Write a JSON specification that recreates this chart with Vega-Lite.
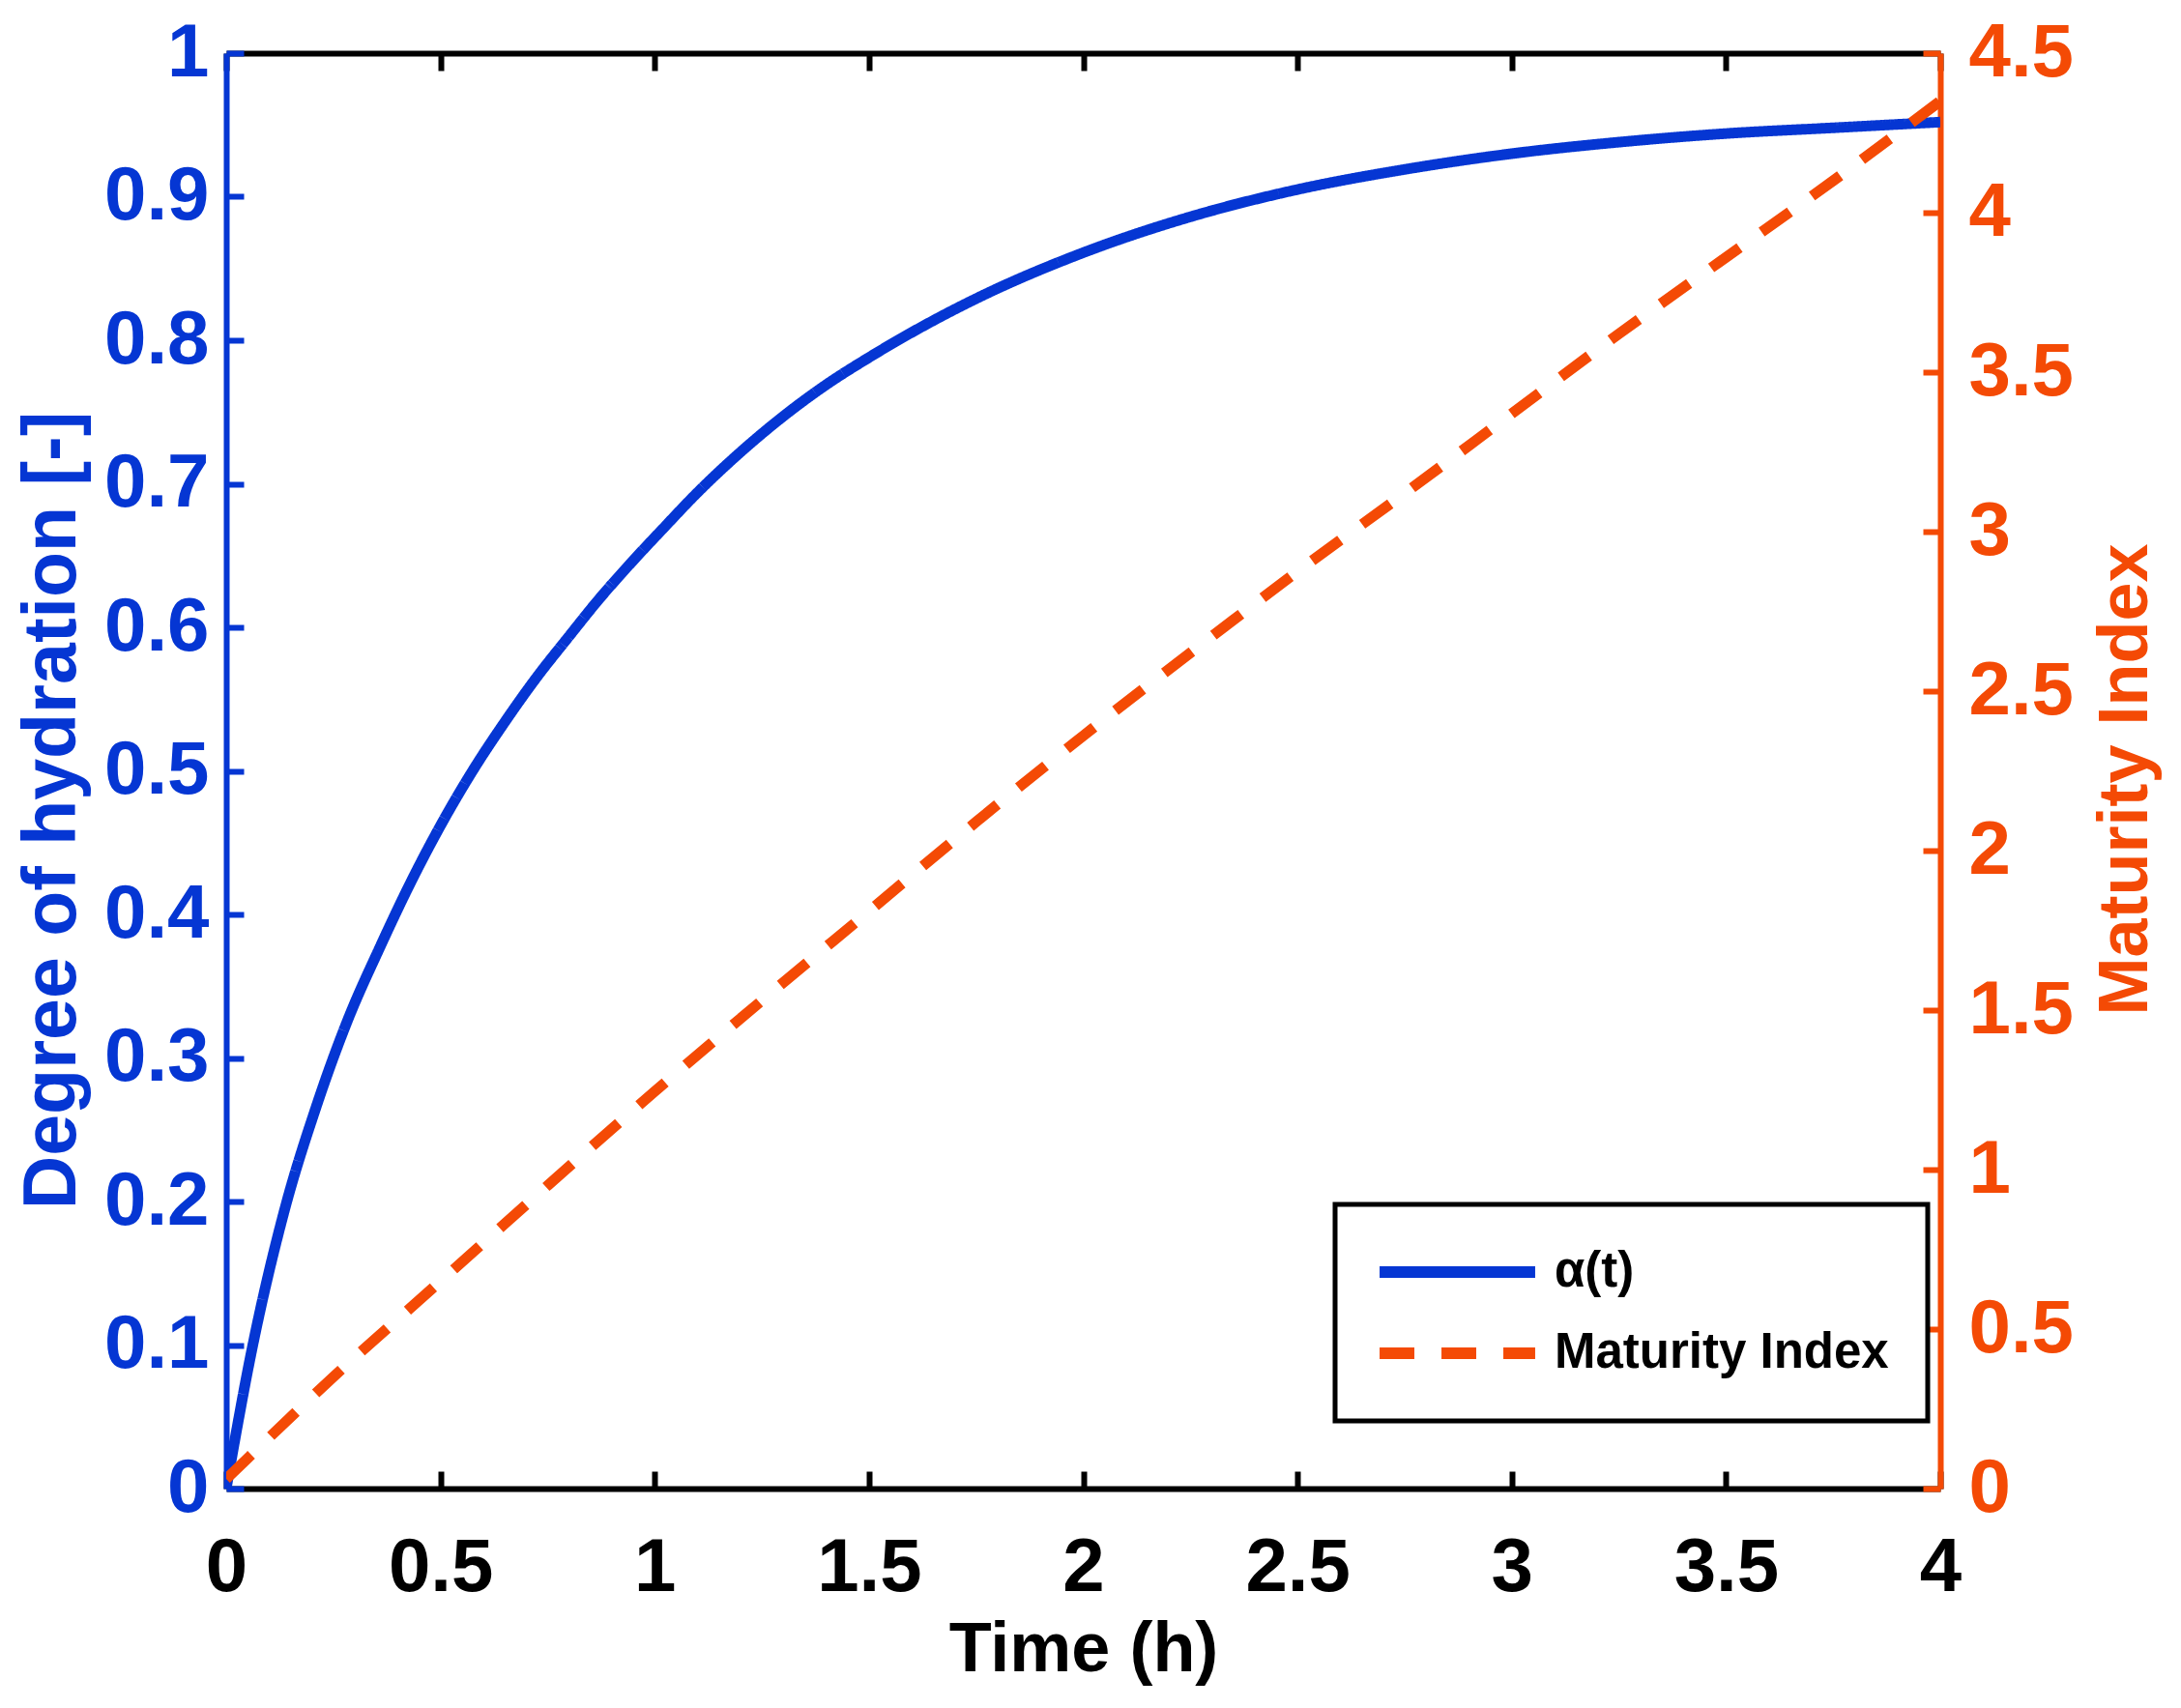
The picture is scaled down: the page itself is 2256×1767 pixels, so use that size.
{
  "$schema": "https://vega.github.io/schema/vega-lite/v6.json",
  "width": 1773,
  "height": 1485,
  "autosize": "none",
  "padding": {"left": 234, "top": 55, "right": 249, "bottom": 227},
  "background": "white",
  "config": {
    "view": {"stroke": null},
    "axis": {"grid": false, "labelFontWeight": "bold", "titleFontWeight": "bold", "labelFont": "Liberation Sans Narrow, Liberation Sans", "labelFontSize": 78, "domainWidth": 6, "tickWidth": 6, "tickSize": -18, "labelFlush": false, "labelOverlap": false},
    "legend": {"title": null, "orient": "none", "legendX": 1147, "legendY": 1191, "strokeColor": "black", "fillColor": "white", "strokeWidth": 5, "padding": 40, "symbolType": "stroke", "symbolSize": 25900, "symbolStrokeWidth": 12, "clipHeight": 60, "labelFont": "Liberation Sans Narrow, Liberation Sans", "labelFontWeight": "bold", "labelFontSize": 51, "labelColor": "black", "labelOffset": 14, "labelLimit": 0, "rowPadding": 24}
  },
  "datasets": {
    "alpha": [
      {"t": 0, "v": 0, "series": "α(t)"},
      {"t": 0.06, "v": 0.097, "series": "α(t)"},
      {"t": 0.136, "v": 0.194, "series": "α(t)"},
      {"t": 0.21, "v": 0.266, "series": "α(t)"},
      {"t": 0.283, "v": 0.326, "series": "α(t)"},
      {"t": 0.36, "v": 0.378, "series": "α(t)"},
      {"t": 0.43, "v": 0.422, "series": "α(t)"},
      {"t": 0.504, "v": 0.464, "series": "α(t)"},
      {"t": 0.577, "v": 0.501, "series": "α(t)"},
      {"t": 0.65, "v": 0.534, "series": "α(t)"},
      {"t": 0.724, "v": 0.565, "series": "α(t)"},
      {"t": 0.798, "v": 0.593, "series": "α(t)"},
      {"t": 0.871, "v": 0.62, "series": "α(t)"},
      {"t": 0.945, "v": 0.645, "series": "α(t)"},
      {"t": 1.02, "v": 0.669, "series": "α(t)"},
      {"t": 1.1, "v": 0.694, "series": "α(t)"},
      {"t": 1.2, "v": 0.722, "series": "α(t)"},
      {"t": 1.3, "v": 0.747, "series": "α(t)"},
      {"t": 1.4, "v": 0.769, "series": "α(t)"},
      {"t": 1.5, "v": 0.788, "series": "α(t)"},
      {"t": 1.75, "v": 0.829, "series": "α(t)"},
      {"t": 2.0, "v": 0.861, "series": "α(t)"},
      {"t": 2.25, "v": 0.886, "series": "α(t)"},
      {"t": 2.5, "v": 0.905, "series": "α(t)"},
      {"t": 2.75, "v": 0.919, "series": "α(t)"},
      {"t": 3.0, "v": 0.93, "series": "α(t)"},
      {"t": 3.25, "v": 0.938, "series": "α(t)"},
      {"t": 3.5, "v": 0.944, "series": "α(t)"},
      {"t": 3.75, "v": 0.948, "series": "α(t)"},
      {"t": 4.0, "v": 0.952, "series": "α(t)"}
    ],
    "maturity": [
      {"t": 0, "m": 0.03, "series": "Maturity Index"},
      {"t": 0.25, "m": 0.35, "series": "Maturity Index"},
      {"t": 0.5, "m": 0.65, "series": "Maturity Index"},
      {"t": 0.75, "m": 0.95, "series": "Maturity Index"},
      {"t": 1.0, "m": 1.245, "series": "Maturity Index"},
      {"t": 1.25, "m": 1.53, "series": "Maturity Index"},
      {"t": 1.5, "m": 1.81, "series": "Maturity Index"},
      {"t": 1.75, "m": 2.09, "series": "Maturity Index"},
      {"t": 2.0, "m": 2.36, "series": "Maturity Index"},
      {"t": 2.25, "m": 2.62, "series": "Maturity Index"},
      {"t": 2.5, "m": 2.875, "series": "Maturity Index"},
      {"t": 2.75, "m": 3.12, "series": "Maturity Index"},
      {"t": 3.0, "m": 3.37, "series": "Maturity Index"},
      {"t": 3.25, "m": 3.62, "series": "Maturity Index"},
      {"t": 3.5, "m": 3.86, "series": "Maturity Index"},
      {"t": 3.75, "m": 4.1, "series": "Maturity Index"},
      {"t": 4.0, "m": 4.35, "series": "Maturity Index"}
    ]
  },
  "layer": [
    {
      "data": {"name": "alpha"},
      "mark": {"type": "line", "strokeWidth": 11, "strokeCap": "butt", "interpolate": "monotone", "clip": true},
      "encoding": {
        "x": {"field": "t", "type": "quantitative", "scale": {"domain": [0, 4], "nice": false},
          "axis": {"orient": "bottom", "values": [0, 0.5, 1, 1.5, 2, 2.5, 3, 3.5, 4], "format": "~g", "domainColor": "black", "tickColor": "black", "labelColor": "black", "labelPadding": 61, "title": "Time (h)", "titleFont": "Liberation Sans Narrow, Liberation Sans", "titleFontSize": 72, "titleColor": "black", "titlePadding": 10}},
        "y": {"field": "v", "type": "quantitative", "scale": {"domain": [0, 1], "nice": false},
          "axis": {"orient": "left", "values": [0, 0.1, 0.2, 0.3, 0.4, 0.5, 0.6, 0.7, 0.8, 0.9, 1], "format": "~g", "domainColor": "#0536d3", "tickColor": "#0536d3", "labelColor": "#0536d3", "labelPadding": 36, "title": "Degree of hydration [-]", "titleFont": "Liberation Sans", "titleFontSize": 77, "titleColor": "#0536d3", "titleAngle": 270, "titleBaseline": "alphabetic", "titleAlign": "center", "titleX": -157, "titleY": 783}},
        "color": {"field": "series", "type": "nominal", "scale": {"domain": ["α(t)", "Maturity Index"], "range": ["#0536d3", "#f44a05"]}},
        "strokeDash": {"field": "series", "type": "nominal", "scale": {"domain": ["α(t)", "Maturity Index"], "range": [[1, 0], [36, 28]]}}
      }
    },
    {
      "data": {"name": "maturity"},
      "mark": {"type": "line", "strokeWidth": 11, "strokeCap": "butt", "interpolate": "monotone", "clip": true},
      "encoding": {
        "x": {"field": "t", "type": "quantitative", "scale": {"domain": [0, 4], "nice": false},
          "axis": {"orient": "top", "values": [0, 0.5, 1, 1.5, 2, 2.5, 3, 3.5, 4], "labels": false, "domainColor": "black", "tickColor": "black", "title": null}},
        "y": {"field": "m", "type": "quantitative", "scale": {"domain": [0, 4.5], "nice": false},
          "axis": {"orient": "right", "values": [0, 0.5, 1, 1.5, 2, 2.5, 3, 3.5, 4, 4.5], "format": "~g", "domainColor": "#f44a05", "tickColor": "#f44a05", "labelColor": "#f44a05", "labelPadding": 47, "title": "Maturity Index", "titleFont": "Liberation Sans", "titleFontSize": 72, "titleColor": "#f44a05", "titleAngle": 270, "titleBaseline": "alphabetic", "titleAlign": "center", "titleX": 213, "titleY": 751}},
        "color": {"field": "series", "type": "nominal", "scale": {"domain": ["α(t)", "Maturity Index"], "range": ["#0536d3", "#f44a05"]}},
        "strokeDash": {"field": "series", "type": "nominal", "scale": {"domain": ["α(t)", "Maturity Index"], "range": [[1, 0], [36, 28]]}}
      }
    }
  ],
  "resolve": {"scale": {"y": "independent"}, "axis": {"x": "independent"}}
}
